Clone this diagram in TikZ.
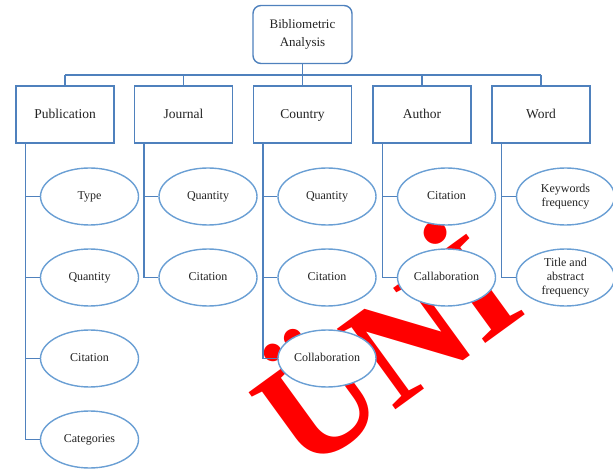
\documentclass[tikz,border=0pt]{standalone}
\usepackage{fontspec}
\setmainfont{Liberation Serif}
\usetikzlibrary{shapes.geometric}
\definecolor{linec}{RGB}{79,129,189}
\definecolor{ellc}{RGB}{106,159,212}
\definecolor{wmred}{RGB}{255,0,0}
\definecolor{txt}{RGB}{35,35,35}
\tikzset{
  topbox/.style={draw=linec, line width=1.4pt, fill=white, rounded corners=8pt,
    minimum width=99pt, minimum height=58pt, inner sep=0pt, align=center,
    text=txt, font=\fontsize{13}{18}\selectfont},
  catbox/.style={draw=linec, line width=1.4pt, fill=white,
    minimum width=98pt, minimum height=57pt, inner sep=0pt,
    text height=10.5pt, text depth=2pt,
    text=txt, font=\fontsize{13.5}{16}\selectfont},
  leafbase/.style={ellipse, draw=ellc, line width=1.4pt, fill=white,
    minimum width=98pt, minimum height=57pt, inner sep=0pt, align=center,
    text=txt, font=\fontsize{12}{14}\selectfont},
  leaf/.style={leafbase, text height=8.5pt, text depth=2pt},
  leafmulti/.style={leafbase},
  conn/.style={draw=linec, line width=1.4pt},
  wm/.style={text=wmred, font=\fontsize{152}{152}\selectfont\bfseries, inner sep=0pt}
}
\begin{document}
\begin{tikzpicture}[x=1pt,y=-1pt]
\useasboundingbox (0,0) rectangle (613,470);
% watermark (behind everything)
\node[wm, rotate=36, anchor=base east] (wmark) at (530,312) {ÜNİ};
% top
\node[topbox] (top) at (302.5,34.5) {Bibliometric\\Analysis};
% category boxes
\node[catbox] (pub) at (65,114.5) {Publication};
\node[catbox] (jou) at (183.5,114.5) {Journal};
\node[catbox] (cou) at (302.5,114.5) {Country};
\node[catbox] (aut) at (422,114.5) {Author};
\node[catbox] (wor) at (541,114.5) {Word};
% bus
\coordinate (bus) at (302.5,75);
\draw[conn] (top.south) -- (bus);
\draw[conn] (pub.north |- bus) -- (wor.north |- bus);
\foreach \n in {pub,jou,cou,aut,wor} \draw[conn] (\n.north) -- (\n.north |- bus);
% leaves
\node[leaf] (pubA) at (89.5,196.5) {Type};
\node[leaf] (pubB) at (89.5,277.5) {Quantity};
\node[leaf] (pubC) at (89.5,358.5) {Citation};
\node[leaf] (pubD) at (89.5,439.5) {Categories};
\node[leaf] (jouA) at (208,196.5) {Quantity};
\node[leaf] (jouB) at (208,277.5) {Citation};
\node[leaf] (couA) at (327,196.5) {Quantity};
\node[leaf] (couB) at (327,277.5) {Citation};
\node[leaf] (couC) at (327,358.5) {Collaboration};
\node[leaf] (autA) at (446.5,196.5) {Citation};
\node[leaf] (autB) at (446.5,277.5) {Callaboration};
\node[leafmulti] (worA) at (565.5,196.5) {Keywords\\frequency};
\node[leafmulti] (worB) at (565.5,277.5) {Title and\\abstract\\frequency};
% spines
\foreach \b/\l in {pub/pubA,pub/pubB,pub/pubC,pub/pubD,jou/jouA,jou/jouB,cou/couA,cou/couB,cou/couC,aut/autA,aut/autB,wor/worA,wor/worB}
  \draw[conn] ([xshift=10pt]\b.south west) |- (\l.west);
\end{tikzpicture}
\end{document}
